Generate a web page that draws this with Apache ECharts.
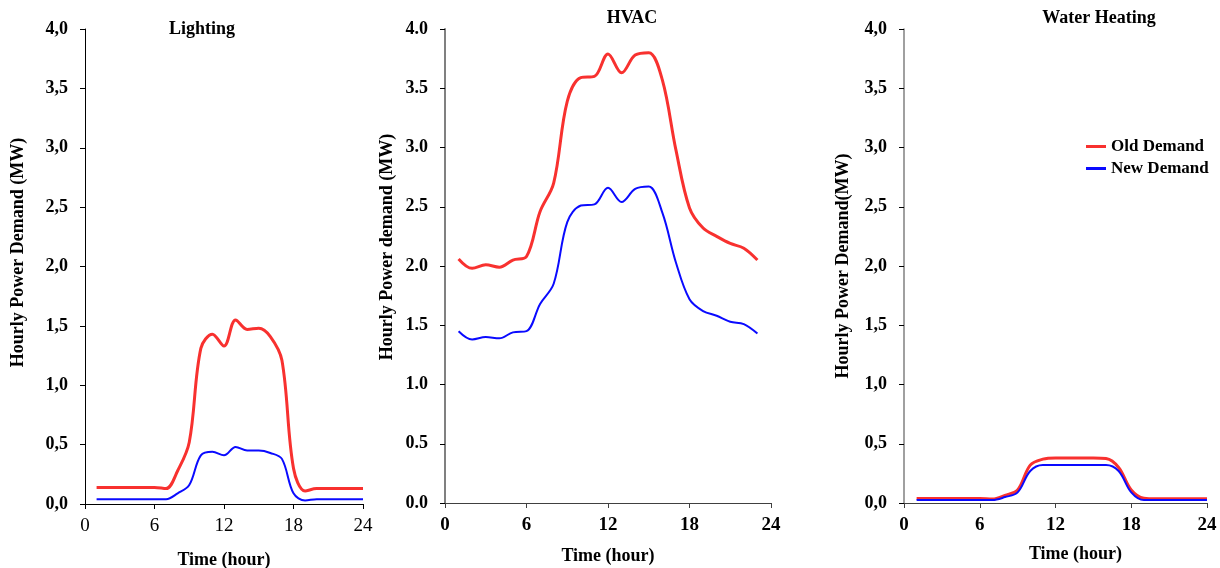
<!DOCTYPE html>
<html>
<head>
<meta charset="utf-8">
<script src="https://cdn.jsdelivr.net/npm/echarts@6/dist/echarts.min.js"></script>
<style>
html,body{margin:0;padding:0;background:#fff;}
#c{width:1220px;height:568px;}
</style>
</head>
<body>
<div id="c"></div>
<script>
// ---- data ----
const hoursLighting = [1,2,3,4,5,6,7,8,9,10,11,12,13,14,15,16,17,18,19,20,21,22,23,24];
const lightingOld = [0.14,0.14,0.14,0.14,0.14,0.14,0.13,0.28,0.52,1.31,1.43,1.33,1.55,1.47,1.48,1.41,1.21,0.30,0.11,0.13,0.13,0.13,0.13,0.13];
const lightingNew = [0.04,0.04,0.04,0.04,0.04,0.04,0.04,0.09,0.16,0.41,0.44,0.41,0.48,0.45,0.45,0.43,0.38,0.09,0.03,0.04,0.04,0.04,0.04,0.04];

const hoursHvac = [1,2,3,4,5,6,7,8,9,10,11,12,13,14,15,16,17,18,19,20,21,22,23];
const hvacOld = [2.06,1.98,2.01,1.99,2.05,2.08,2.46,2.70,3.39,3.59,3.60,3.79,3.63,3.78,3.80,3.57,2.98,2.49,2.32,2.25,2.19,2.15,2.05];
const hvacNew = [1.45,1.38,1.40,1.39,1.44,1.45,1.68,1.85,2.37,2.51,2.52,2.66,2.54,2.65,2.67,2.45,2.03,1.72,1.62,1.58,1.53,1.51,1.43];

const hoursWater = [1,2,3,4,5,6,7,8,9,10,11,12,13,14,15,16,17,18,19,20,21,22,23,24];
const waterOld = [0.037,0.037,0.037,0.037,0.037,0.037,0.034,0.065,0.11,0.32,0.37,0.38,0.38,0.38,0.38,0.375,0.30,0.11,0.04,0.035,0.035,0.035,0.035,0.035];
const waterNew = [0.025,0.025,0.025,0.025,0.025,0.025,0.025,0.05,0.09,0.27,0.32,0.32,0.32,0.32,0.32,0.32,0.27,0.09,0.025,0.025,0.025,0.025,0.025,0.025];

const panelTitles = ['Lighting','HVAC','Water Heating'];
const yNames = ['Hourly Power Demand (MW)','Hourly Power demand (MW)','Hourly Power Demand(MW)'];
const xName = 'Time (hour)';
const seriesNames = ['Old Demand','New Demand'];

// ---- styles ----
const FONT = '"Liberation Serif","Times New Roman",serif';
const RED = '#f8312f';
const BLUE = '#0a0aff';

function pairs(xs, ys){ return xs.map((x,i)=>[x, ys[i]]); }

const grids = [
  {left:85, right:857, top:29, bottom:64},
  {left:445, right:449, top:29, bottom:65},
  {left:904, right:13, top:29, bottom:65}
].map(g=>Object.assign(g,{containLabel:false, outerBoundsMode:'none'}));

const axisColors = [
  {y:'#000', yw:1, x:'#000', xw:1},
  {y:'#808080', yw:2, x:'#404040', xw:1},
  {y:'#808080', yw:1.5, x:'#404040', xw:1}
];

const decimalComma = [true,false,true];
const xLabelBold = ['normal','bold','bold'];
const xNameGap = [47,44,42];
const xNamePad = [[0,0,0,0],[0,0,0,0],[0,0,0,40]];
const yNameGap = [58,49,52];
const yNamePad = [[0,0,0,28],[0,0,0,38],[0,0,0,0]];

const xAxes = [], yAxes = [];
for (let i=0;i<3;i++){
  xAxes.push({
    type:'value', gridIndex:i, min:0, max:24, interval:6,
    name:xName, nameLocation:'middle', nameGap:xNameGap[i],
    nameTextStyle:{fontFamily:FONT, fontWeight:'bold', fontSize:18, color:'#000', padding:xNamePad[i]},
    axisLine:{show:true, onZero:false, lineStyle:{color:axisColors[i].x, width:axisColors[i].xw}},
    axisTick:{show:true, inside:false, length:5, lineStyle:{color:axisColors[i].x}},
    axisLabel:{fontFamily:FONT, fontSize:19, fontWeight:xLabelBold[i], color:'#000', margin:13},
    splitLine:{show:false}
  });
  yAxes.push({
    type:'value', gridIndex:i, min:0, max:4, interval:0.5,
    name:yNames[i], nameLocation:'middle', nameGap:yNameGap[i],
    nameTextStyle:{fontFamily:FONT, fontWeight:'bold', fontSize:18, color:'#000', padding:yNamePad[i]},
    axisLine:{show:true, onZero:false, lineStyle:{color:axisColors[i].y, width:axisColors[i].yw}},
    axisTick:{show:true, inside:false, length:5, lineStyle:{color:'#000'}},
    axisLabel:{fontFamily:FONT, fontSize:18, fontWeight:'bold', color:'#000', margin:17,
      formatter: (function(comma){ return function(v){ const s=v.toFixed(1); return comma? s.replace('.',','):s; }; })(decimalComma[i])},
    splitLine:{show:false}
  });
}

const dataSets = [
  [pairs(hoursLighting, lightingOld), pairs(hoursLighting, lightingNew)],
  [pairs(hoursHvac, hvacOld), pairs(hoursHvac, hvacNew)],
  [pairs(hoursWater, waterOld), pairs(hoursWater, waterNew)]
];

const series = [];
for (let i=0;i<3;i++){
  series.push({
    name:seriesNames[0], type:'line', xAxisIndex:i, yAxisIndex:i, data:dataSets[i][0],
    smooth:0.35, symbol:'none', showSymbol:false, lineStyle:{color:RED, width:3}, itemStyle:{color:RED}, z:2
  });
  series.push({
    name:seriesNames[1], type:'line', xAxisIndex:i, yAxisIndex:i, data:dataSets[i][1],
    smooth:0.35, symbol:'none', showSymbol:false, lineStyle:{color:BLUE, width:2}, itemStyle:{color:BLUE}, z:3
  });
}

const titles = [
  {text:panelTitles[0], left:197, top:15},
  {text:panelTitles[1], left:627, top:4},
  {text:panelTitles[2], left:1094, top:4}
].map(t=>({text:t.text, left:t.left, top:t.top, textAlign:'center',
  textStyle:{fontFamily:FONT, fontWeight:'bold', fontSize:18, color:'#000'}}));

const chart = echarts.init(document.getElementById('c'), null, {renderer:'canvas'});
chart.setOption({
  animation:false,
  backgroundColor:'#fff',
  title:titles,
  legend:{
    data:[{name:seriesNames[0], icon:'rect'},{name:seriesNames[1], icon:'rect'}],
    orient:'vertical', left:1081, top:133, itemWidth:20, itemHeight:3, itemGap:5,
    textStyle:{fontFamily:FONT, fontWeight:'bold', fontSize:17, color:'#000'}
  },
  grid:grids,
  xAxis:xAxes,
  yAxis:yAxes,
  series:series
});
</script>
</body>
</html>
